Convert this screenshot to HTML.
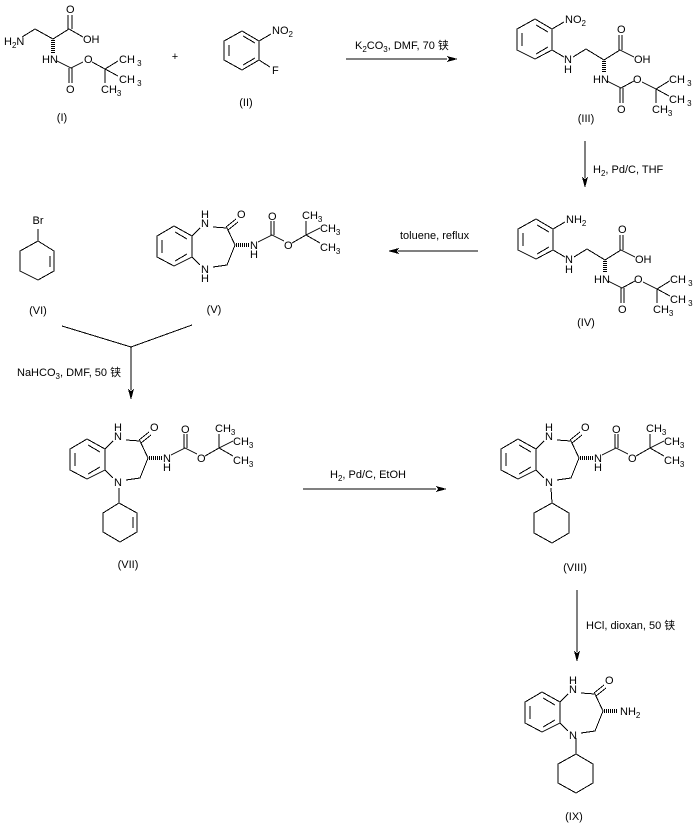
<!DOCTYPE html>
<html><head><meta charset="utf-8"><style>
html,body{margin:0;padding:0;background:#fff}
svg{display:block}
text{font-family:"Liberation Sans","Noto Sans CJK SC",sans-serif;font-size:11px;fill:#000}
tspan.s{font-size:8px}
.b{shape-rendering:crispEdges}
.b line,.b polyline,.b polygon{stroke:#000;stroke-width:1;fill:none}
polygon.h{fill:#000!important;stroke:none!important}
.d{stroke-dasharray:1 1;stroke-width:4!important}
</style></head><body>
<svg width="693" height="823" viewBox="0 0 693 823" xmlns="http://www.w3.org/2000/svg">
<!-- I -->
<g class="b">
<polyline points="22,37 35,29 53,39 69,29 83,37"/>
<line x1="68" y1="29" x2="68" y2="15"/><line x1="72" y1="29" x2="72" y2="15"/>
<line class="d" x1="53" y1="40" x2="53" y2="53"/>
<polyline points="57,61 71,68 83,62"/>
<line x1="69" y1="68" x2="69" y2="83"/><line x1="72" y1="68" x2="72" y2="83"/>
<line x1="92" y1="62" x2="105" y2="69"/><line x1="105" y1="69" x2="118" y2="61"/><line x1="105" y1="69" x2="118" y2="76"/><line x1="105" y1="69" x2="105" y2="83"/>
</g>
<text x="4" y="45">H<tspan class="s" dy="3">2</tspan><tspan dy="-3">N</tspan></text>
<text x="66" y="13">O</text><text x="83" y="43">OH</text><text x="42" y="63">HN</text>
<text x="66" y="93">O</text><text x="84" y="63">O</text>
<text x="119" y="63">CH<tspan class="s" dy="3"> 3</tspan></text>
<text x="119" y="83">CH<tspan class="s" dy="3"> 3</tspan></text>
<text x="101" y="93">CH<tspan class="s" dy="3">3</tspan></text>
<text x="62" y="121" text-anchor="middle">(I)</text>
<text x="175" y="60" text-anchor="middle">+</text>
<!-- II -->
<g class="b">
<polygon points="242,31 259,41 259,60 242,70 224,60 224,41"/>
<line x1="229" y1="45" x2="229" y2="56"/><line x1="243" y1="36" x2="255" y2="43"/><line x1="243" y1="65" x2="255" y2="58"/>
<line x1="259" y1="41" x2="271" y2="34"/><line x1="259" y1="60" x2="270" y2="67"/>
</g>
<text x="272" y="34">NO<tspan class="s" dy="3">2</tspan></text><text x="272" y="74">F</text>
<text x="246" y="106" text-anchor="middle">(II)</text>
<!-- arrow 1 -->
<g class="b"><line x1="346" y1="59" x2="447" y2="59"/><polygon class="h" points="458,59 447,56 449,59 447,62"/></g>
<text x="355" y="49">K<tspan class="s" dy="3">2</tspan><tspan dy="-3">CO</tspan><tspan class="s" dy="3">3</tspan><tspan dy="-3">, DMF, 70 铗</tspan></text>
<!-- III -->
<g class="b">
<polygon points="535,19 552,29 552,50 535,59 517,50 517,29"/>
<line x1="522" y1="33" x2="522" y2="46"/><line x1="536" y1="25" x2="548" y2="32"/><line x1="536" y1="54" x2="548" y2="47"/>
<line x1="552" y1="29" x2="564" y2="22"/><line x1="552" y1="50" x2="564" y2="57"/>
<polyline points="573,57 586,49 604,60 620,50 634,57"/>
<line x1="619" y1="50" x2="619" y2="35"/><line x1="622" y1="50" x2="622" y2="35"/>
<line class="d" x1="604" y1="61" x2="604" y2="73"/>
<polyline points="607,81 621,88 634,81"/>
<line x1="620" y1="88" x2="620" y2="103"/><line x1="623" y1="88" x2="623" y2="103"/>
<line x1="642" y1="82" x2="656" y2="89"/><line x1="656" y1="89" x2="669" y2="81"/><line x1="656" y1="89" x2="669" y2="96"/><line x1="656" y1="89" x2="656" y2="103"/>
</g>
<text x="565" y="23">NO<tspan class="s" dy="3">2</tspan></text>
<text x="564" y="63">N</text><text x="564" y="73">H</text>
<text x="617" y="33">O</text><text x="634" y="63">OH</text><text x="593" y="83">HN</text><text x="617" y="113">O</text><text x="633" y="83">O</text>
<text x="669" y="83">CH<tspan class="s" dy="3"> 3</tspan></text><text x="669" y="103">CH<tspan class="s" dy="3"> 3</tspan></text><text x="652" y="113">CH<tspan class="s" dy="3">3</tspan></text>
<text x="586" y="122" text-anchor="middle">(III)</text>
<!-- arrow III-IV -->
<g class="b"><line x1="585" y1="141" x2="585" y2="178"/><polygon class="h" points="585,188 582,177 585,179 588,177"/></g>
<text x="593" y="173">H<tspan class="s" dy="3">2</tspan><tspan dy="-3">, Pd/C, THF</tspan></text>
<!-- IV -->
<g transform="translate(1,200)"><g class="b">
<polygon points="535,19 552,29 552,50 535,59 517,50 517,29"/>
<line x1="522" y1="33" x2="522" y2="46"/><line x1="536" y1="25" x2="548" y2="32"/><line x1="536" y1="54" x2="548" y2="47"/>
<line x1="552" y1="29" x2="564" y2="22"/><line x1="552" y1="50" x2="564" y2="57"/>
<polyline points="573,57 586,49 604,60 620,50 634,57"/>
<line x1="619" y1="50" x2="619" y2="35"/><line x1="622" y1="50" x2="622" y2="35"/>
<line class="d" x1="604" y1="61" x2="604" y2="73"/>
<polyline points="607,81 621,88 634,81"/>
<line x1="620" y1="88" x2="620" y2="103"/><line x1="623" y1="88" x2="623" y2="103"/>
<line x1="642" y1="82" x2="656" y2="89"/><line x1="656" y1="89" x2="669" y2="81"/><line x1="656" y1="89" x2="669" y2="96"/><line x1="656" y1="89" x2="656" y2="103"/>
</g>
<text x="565" y="23">NH<tspan class="s" dy="3">2</tspan></text>
<text x="564" y="63">N</text><text x="564" y="73">H</text>
<text x="617" y="33">O</text><text x="634" y="63">OH</text><text x="593" y="83">HN</text><text x="617" y="113">O</text><text x="633" y="83">O</text>
<text x="669" y="83">CH<tspan class="s" dy="3"> 3</tspan></text><text x="669" y="103">CH<tspan class="s" dy="3"> 3</tspan></text><text x="652" y="113">CH<tspan class="s" dy="3">3</tspan></text>
</g>
<text x="586" y="326" text-anchor="middle">(IV)</text>
<!-- toluene arrow -->
<g class="b"><line x1="478" y1="251" x2="398" y2="251"/><polygon class="h" points="388,251 399,248 397,251 399,254"/></g>
<text x="400" y="239">toluene, reflux</text>
<!-- VI -->
<g class="b">
<line x1="38" y1="229" x2="38" y2="241"/>
<polygon points="38,241 54,251 54,271 38,280 20,271 20,251"/>
<line x1="50" y1="256" x2="50" y2="267"/>
</g>
<text x="38" y="224" text-anchor="middle">Br</text>
<text x="38" y="314" text-anchor="middle">(VI)</text>
<!-- V -->
<g class="b">
<polygon points="174,226 192,236 192,257 174,266 157,257 157,236"/>
<line x1="162" y1="240" x2="162" y2="253"/><line x1="175" y1="232" x2="187" y2="239"/><line x1="175" y1="261" x2="187" y2="254"/>
<line x1="192" y1="236" x2="200" y2="228"/><line x1="192" y1="257" x2="200" y2="265"/>
<polyline points="213,227 227,228 235,245 227,265 213,267"/>
<line x1="226" y1="227" x2="236" y2="219"/><line x1="228" y1="230" x2="238" y2="222"/>
<line class="d" x1="236" y1="245" x2="250" y2="245"/>
<polyline points="258,242 272,235 284,241"/>
<line x1="271" y1="235" x2="271" y2="221"/><line x1="274" y1="235" x2="274" y2="221"/>
<line x1="292" y1="243" x2="306" y2="235"/><line x1="306" y1="235" x2="306" y2="221"/><line x1="306" y1="235" x2="320" y2="228"/><line x1="306" y1="235" x2="320" y2="243"/>
</g>
<text x="201" y="218">H</text><text x="201" y="227">N</text>
<text x="201" y="273">N</text><text x="201" y="282">H</text>
<text x="237" y="218">O</text>
<text x="250" y="249">N</text><text x="250" y="258">H</text>
<text x="268" y="220">O</text><text x="284" y="249">O</text>
<text x="302" y="219">CH<tspan class="s" dy="3">3</tspan></text><text x="320" y="232">CH<tspan class="s" dy="3">3</tspan></text><text x="320" y="251">CH<tspan class="s" dy="3">3</tspan></text>
<text x="214" y="313" text-anchor="middle">(V)</text>
<!-- merge arrow -->
<g class="b"><polyline points="62,326 131,347 192,325"/><line x1="131" y1="347" x2="131" y2="390"/><polygon class="h" points="131,400 128,389 131,391 134,389"/></g>
<text x="17" y="376">NaHCO<tspan class="s" dy="3">3</tspan><tspan dy="-3">, DMF, 50 铗</tspan></text>
<!-- VII -->
<g transform="translate(-87,213)"><g class="b">
<polygon points="174,226 192,236 192,257 174,266 157,257 157,236"/>
<line x1="162" y1="240" x2="162" y2="253"/><line x1="175" y1="232" x2="187" y2="239"/><line x1="175" y1="261" x2="187" y2="254"/>
<line x1="192" y1="236" x2="200" y2="228"/><line x1="192" y1="257" x2="200" y2="265"/>
<polyline points="213,227 227,228 235,245 227,265 213,267"/>
<line x1="226" y1="227" x2="236" y2="219"/><line x1="228" y1="230" x2="238" y2="222"/>
<line class="d" x1="236" y1="245" x2="250" y2="245"/>
<polyline points="258,242 272,235 284,241"/>
<line x1="271" y1="235" x2="271" y2="221"/><line x1="274" y1="235" x2="274" y2="221"/>
<line x1="292" y1="243" x2="306" y2="235"/><line x1="306" y1="235" x2="306" y2="221"/><line x1="306" y1="235" x2="320" y2="228"/><line x1="306" y1="235" x2="320" y2="243"/>
</g>
<text x="201" y="218">H</text><text x="201" y="227">N</text>
<text x="201" y="273">N</text>
<text x="237" y="218">O</text>
<text x="250" y="249">N</text><text x="250" y="258">H</text>
<text x="268" y="220">O</text><text x="284" y="249">O</text>
<text x="302" y="219">CH<tspan class="s" dy="3">3</tspan></text><text x="320" y="232">CH<tspan class="s" dy="3">3</tspan></text><text x="320" y="251">CH<tspan class="s" dy="3">3</tspan></text>
</g>
<g class="b">
<line x1="119" y1="488" x2="119" y2="503"/>
<polygon points="119,503 137,513 137,532 120,542 103,532 103,513"/>
<line x1="133" y1="517" x2="133" y2="528"/>
</g>
<text x="128" y="568" text-anchor="middle">(VII)</text>
<!-- arrow VII-VIII -->
<g class="b"><line x1="303" y1="489" x2="436" y2="489"/><polygon class="h" points="447,489 436,486 438,489 436,492"/></g>
<text x="330" y="478">H<tspan class="s" dy="3">2</tspan><tspan dy="-3">, Pd/C, EtOH</tspan></text>
<!-- VIII -->
<g transform="translate(344,213)"><g class="b">
<polygon points="174,226 192,236 192,257 174,266 157,257 157,236"/>
<line x1="162" y1="240" x2="162" y2="253"/><line x1="175" y1="232" x2="187" y2="239"/><line x1="175" y1="261" x2="187" y2="254"/>
<line x1="192" y1="236" x2="200" y2="228"/><line x1="192" y1="257" x2="200" y2="265"/>
<polyline points="213,227 227,228 235,245 227,265 213,267"/>
<line x1="226" y1="227" x2="236" y2="219"/><line x1="228" y1="230" x2="238" y2="222"/>
<line class="d" x1="236" y1="245" x2="250" y2="245"/>
<polyline points="258,242 272,235 284,241"/>
<line x1="271" y1="235" x2="271" y2="221"/><line x1="274" y1="235" x2="274" y2="221"/>
<line x1="292" y1="243" x2="306" y2="235"/><line x1="306" y1="235" x2="306" y2="221"/><line x1="306" y1="235" x2="320" y2="228"/><line x1="306" y1="235" x2="320" y2="243"/>
</g>
<text x="201" y="218">H</text><text x="201" y="227">N</text>
<text x="201" y="273">N</text>
<text x="237" y="218">O</text>
<text x="250" y="249">N</text><text x="250" y="258">H</text>
<text x="268" y="220">O</text><text x="284" y="249">O</text>
<text x="302" y="219">CH<tspan class="s" dy="3">3</tspan></text><text x="320" y="232">CH<tspan class="s" dy="3">3</tspan></text><text x="320" y="251">CH<tspan class="s" dy="3">3</tspan></text>
</g>
<g class="b">
<line x1="551" y1="488" x2="552" y2="503"/>
<polygon points="552,503 569,513 569,533 552,543 534,533 534,513"/>
</g>
<text x="575" y="571" text-anchor="middle">(VIII)</text>
<!-- arrow VIII-IX -->
<g class="b"><line x1="577" y1="590" x2="577" y2="652"/><polygon class="h" points="577,662 574,651 577,653 580,651"/></g>
<text x="586" y="629">HCl, dioxan, 50 铗</text>
<!-- IX -->
<g transform="translate(368,466)"><g class="b">
<polygon points="174,226 192,236 192,257 174,266 157,257 157,236"/>
<line x1="162" y1="240" x2="162" y2="253"/><line x1="175" y1="232" x2="187" y2="239"/><line x1="175" y1="261" x2="187" y2="254"/>
<line x1="192" y1="236" x2="200" y2="228"/><line x1="192" y1="257" x2="200" y2="265"/>
<polyline points="213,227 227,228 235,245 227,265 213,267"/>
<line x1="226" y1="227" x2="236" y2="219"/><line x1="228" y1="230" x2="238" y2="222"/>
<line class="d" x1="236" y1="245" x2="250" y2="245"/>
</g>
<text x="201" y="218">H</text><text x="201" y="227">N</text>
<text x="201" y="273">N</text>
<text x="237" y="218">O</text>
<text x="252" y="249">NH<tspan class="s" dy="3">2</tspan></text>
</g>
<g class="b">
<line x1="576" y1="738" x2="576" y2="754"/>
<polygon points="576,754 593,764 593,783 576,793 558,783 558,764"/>
</g>
<text x="574" y="820" text-anchor="middle">(IX)</text>
</svg>
</body></html>
